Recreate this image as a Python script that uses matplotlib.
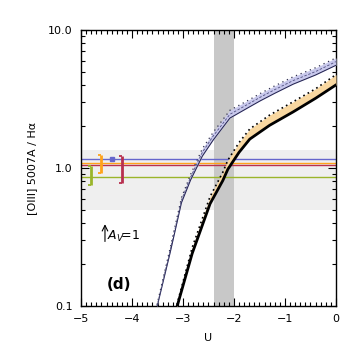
import numpy as np
import matplotlib
matplotlib.use('Agg')
import matplotlib.pyplot as plt
from matplotlib.ticker import FixedLocator, FixedFormatter, MultipleLocator, LogLocator

# model track 1 (blue band)
u_blue = [-3.51, -3.25, -3.03, -2.85, -2.62, -2.41, -2.08, -1.69, -1.49, -1.2, -0.84, -0.4, 0.0]
blue_mid = [0.10, 0.255, 0.586, 0.86, 1.30, 1.70, 2.45, 2.95, 3.25, 3.7, 4.3, 5.0, 5.9]
blue_lo = [0.098, 0.245, 0.56, 0.82, 1.22, 1.59, 2.30, 2.78, 3.06, 3.48, 4.05, 4.72, 5.55]
blue_hi = [0.102, 0.265, 0.61, 0.90, 1.38, 1.81, 2.62, 3.14, 3.46, 3.94, 4.58, 5.33, 6.28]

# model track 2 (orange/black band)
u_blk = [-3.12, -2.82, -2.47, -2.22, -2.12, -1.9, -1.69, -1.3, -0.84, -0.4, 0.0]
blk_lo = [0.098, 0.24, 0.55, 0.81, 0.98, 1.30, 1.62, 2.04, 2.55, 3.2, 4.0]
blk_hi = [0.102, 0.265, 0.62, 0.93, 1.14, 1.53, 1.92, 2.42, 3.02, 3.75, 4.75]

# observed ratios
obs_colors = ['#9ab52a', '#ffa31a', '#6666cc', '#b8304f']
obs_level = [0.865, 1.08, 1.16, 1.05]
bar_u = [-4.8, -4.6, -4.2]
bar_lo = [0.75, 0.915, 0.78]
bar_hi = [1.04, 1.24, 1.23]
bar_colors = ['#9ab52a', '#ffa31a', '#b8304f']
dot_u = -4.4

u_band = [-2.4, -2.0]
ratio_band = [0.5, 1.35]

fig = plt.figure(figsize=(3.61, 3.61), dpi=100)
ax = fig.add_axes([0.2244, 0.1524, 0.7063, 0.7645])
ax.set_yscale('log')
ax.set_xlim(-5, 0)
ax.set_ylim(0.1, 10)

ax.axhspan(ratio_band[0], ratio_band[1], color='#efefef', lw=0, zorder=0)
ax.axvspan(u_band[0], u_band[1], color='#c8c8c8', lw=0, zorder=1)

for c, lev in zip(obs_colors, obs_level):
    ax.axhline(lev, color=c, lw=1, zorder=2)

for u, lo, hi, c in zip(bar_u, bar_lo, bar_hi, bar_colors):
    ax.vlines(u, lo, hi, color=c, lw=2, zorder=3)
    ax.hlines([lo, hi], u - 0.06, u, color=c, lw=1.3, zorder=3)
ax.plot([dot_u], [obs_level[2]], 's', color='#6666cc', ms=3, zorder=3)

# blue track
ax.fill_between(u_blue, blue_lo, blue_hi, color='#c8c8ec', lw=0, zorder=4)
ax.plot(u_blue, blue_lo, color='#20204a', lw=0.7, zorder=5)
ax.plot(u_blue, blue_hi, color='#303050', lw=0.9, ls=(0, (1, 3)), zorder=5)
ax.plot(u_blue, blue_mid, color='#505080', lw=0.6, ls=(0, (3, 2)), zorder=5)

# orange/black track
ax.fill_between(u_blk, blk_lo, blk_hi, color='#f8d7a0', lw=0, zorder=4)
ax.plot(u_blk, blk_lo, color='black', lw=2, zorder=5)
ax.plot(u_blk, blk_hi, color='black', lw=1.2, ls=(0, (1, 2)), zorder=5)

ax.annotate('', xy=(-4.53, 0.41), xytext=(-4.53, 0.28),
            arrowprops=dict(arrowstyle='->', color='black', lw=0.8))
ax.text(-4.49, 0.32, r'$A_V\!$=1', fontsize=9, va='center', ha='left')
ax.text(-4.25, 0.144, '(d)', fontsize=11, fontweight='semibold', ha='center', va='center')

ax.xaxis.set_minor_locator(MultipleLocator(0.1))
ax.set_xticks([-5, -4, -3, -2, -1, 0])
ax.set_xticklabels(['\u22125', '\u22124', '\u22123', '\u22122', '\u22121', '0'])
ax.yaxis.set_major_locator(FixedLocator([0.1, 1, 10]))
ax.yaxis.set_major_formatter(FixedFormatter(['0.1', '1.0', '10.0']))
ax.yaxis.set_minor_locator(LogLocator(base=10, subs=np.arange(2, 10)))
ax.yaxis.set_minor_formatter(FixedFormatter([]))
ax.tick_params(which='both', direction='in', top=True, right=True, labelsize=8, width=0.8)
ax.tick_params(which='major', length=6, pad=6)
ax.tick_params(which='minor', length=3)
for s in ax.spines.values():
    s.set_linewidth(1)

ax.set_xlabel('U', fontsize=8, labelpad=6)
ax.set_ylabel('[OIII] 5007A / H\u03b1', fontsize=8, labelpad=8)

fig.savefig('out.png', dpi=100)
